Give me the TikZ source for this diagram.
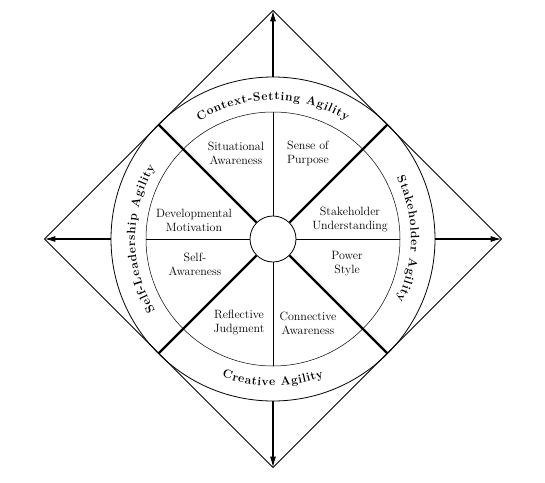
\documentclass[tikz,border=0pt]{standalone}
\usepackage{tikz}
\usetikzlibrary{arrows.meta,decorations.text,calc}

\begin{document}
\begin{tikzpicture}[
x=1pt,y=1pt,
lbl/.style={
  align=center,
  font=\fontsize{12}{14}\selectfont
  },
frame/.style={
  line width=0.8pt
  },
spoke/.style={
  line width=0.5pt
  },
bold spoke/.style={
  line width=2.2pt
  },
arrow/.style={
  ->,
  line width=1.1pt
  },
band/.style={
  decorate,
  decoration={
    text along path,
    text align=fit to path,
    text={|\bfseries\fontsize{12}{14}\selectfont|#1}
    }
  },
>={Latex[length=11pt,width=6pt]}
]
\useasboundingbox (-273,-243) rectangle (272,239);

\foreach \d/\a in {N/90,E/0,S/270,W/180}
{
  \coordinate (v\d) at (\a:228.5pt);
  \coordinate (o\d) at (\a:162pt);
  \coordinate (i\d) at (\a:127pt);
}
\foreach \a in {45,135,225,315}
  \coordinate (d\a) at (\a:162pt);

\draw[frame] (vN) -- (vE) -- (vS) -- (vW) -- cycle;
\draw[frame] (0,0) circle[radius=162pt];
\draw[spoke] (0,0) circle[radius=127pt];

\node[draw, circle, fill=white, minimum size=46pt, inner sep=0pt, line width=0.8pt] (hub) at (0,0) {};

\foreach \a in {45,135,225,315}
  \draw[bold spoke] (hub.\a) -- (d\a);
\foreach \d/\a in {N/90,E/0,S/270,W/180}
{
  \draw[spoke] (hub.\a) -- (i\d);
  \draw[arrow] (o\d) -- (v\d);
}

\path[band=Context-Setting Agility] (122:139pt) arc[start angle=122, end angle=58, radius=139pt];
\path[band=Stakeholder Agility] (26.4:138pt) arc[start angle=26.4, end angle=-26.4, radius=138pt];
\path[band=Creative Agility] (249.7:147pt) arc[start angle=249.7, end angle=290.3, radius=147pt];
\path[band=Self-Leadership Agility] (211.4:138pt) arc[start angle=211.4, end angle=148.6, radius=138pt];

\node[lbl] (sit) at (-37,85.5) {Situational\\Awareness};
\node[lbl] (sen) at (35,85.5) {Sense of\\Purpose};
\node[lbl] (dev) at (-79,19) {Developmental\\Motivation};
\node[lbl] (stk) at (77,19.5) {Stakeholder\\Understanding};
\node[lbl] (sel) at (-78,-25) {Self-\\Awareness};
\node[lbl] (pow) at (74,-25) {Power\\Style};
\node[lbl] (ref) at (-34,-84) {Reflective\\Judgment};
\node[lbl] (con) at (35,-84) {Connective\\Awareness};

\end{tikzpicture}
\end{document}
